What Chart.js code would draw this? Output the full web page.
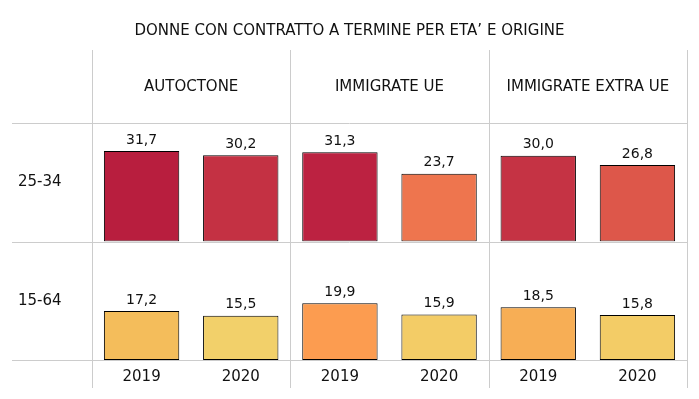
<!DOCTYPE html>
<html>
<head>
    <title>Donne con contratto a termine</title>
    <script src="https://cdn.jsdelivr.net/npm/chart.js"></script>
    <style>
        body {
            margin: 0;
            background: #fff;
        }
        .chart-box {
            width: 699px;
            height: 399px;
            position: relative;
        }
    </style>
</head>
<body>
    <div class="chart-box"><canvas id="chart"></canvas></div>

    <script>
        const chartTitle = 'DONNE CON CONTRATTO A TERMINE PER ETA\u2019 E ORIGINE';
        const groups = ['AUTOCTONE', 'IMMIGRATE UE', 'IMMIGRATE EXTRA UE'];
        const years = ['2019', '2020', '2019', '2020', '2019', '2020'];
        const rowLabels = ['25-34', '15-64'];
        const values2534 = [31.7, 30.2, 31.3, 23.7, 30.0, 26.8];
        const values1564 = [17.2, 15.5, 19.9, 15.9, 18.5, 15.8];
        const colors2534 = ['#b81e3e', '#c43143', '#bc2241', '#ee754e', '#c53344', '#dd574a'];
        const colors1564 = ['#f4bd5b', '#f2d06a', '#fc9c50', '#f3cc66', '#f7ae55', '#f3cc66'];

        const FONT = "'DejaVu Sans', sans-serif";
        const TEXT = '#111111';
        const LINE = '#cccccc';

        // grid lines, headers and row labels drawn around the bars
        const tablePlugin = {
            id: 'table',
            beforeDatasetsDraw(chart) {
                const ctx = chart.ctx;
                const x = chart.scales.x;
                const rows = [chart.scales.y25, chart.scales.y15];
                ctx.save();
                ctx.strokeStyle = LINE;
                ctx.lineWidth = 1;
                ctx.beginPath();
                for (let g = 0; g <= groups.length; g++) {
                    const px = Math.round(x.getPixelForValue(g * 2 - 0.5)) + 0.5;
                    ctx.moveTo(px, 50);
                    ctx.lineTo(px, 388);
                }
                const ys = [rows[0].top, rows[0].bottom, rows[1].bottom];
                ys.forEach(y => {
                    const py = Math.round(y) + 0.5;
                    ctx.moveTo(12, py);
                    ctx.lineTo(x.right, py);
                });
                ctx.stroke();

                ctx.fillStyle = TEXT;
                ctx.font = '15px ' + FONT;
                ctx.textAlign = 'center';
                ctx.textBaseline = 'middle';
                ctx.fillText(chartTitle, chart.width / 2, 31);
                groups.forEach((g, i) => {
                    ctx.fillText(g, x.getPixelForValue(i * 2 + 0.5), 87);
                });
                ctx.textAlign = 'left';
                rows.forEach((s, i) => {
                    ctx.fillText(rowLabels[i], 18, (s.top + s.bottom) / 2);
                });
                ctx.restore();
            },
            afterDatasetsDraw(chart) {
                const ctx = chart.ctx;
                ctx.save();
                ctx.fillStyle = TEXT;
                ctx.font = '14px ' + FONT;
                ctx.textAlign = 'center';
                ctx.textBaseline = 'bottom';
                chart.data.datasets.forEach((ds, i) => {
                    chart.getDatasetMeta(i).data.forEach((bar, j) => {
                        const label = ds.data[j].toFixed(1).replace('.', ',');
                        ctx.fillText(label, bar.x, bar.y - 4);
                    });
                });
                ctx.restore();
            }
        };

        const rowAxis = {
            type: 'linear',
            position: 'left',
            stack: 'rows',
            stackWeight: 1,
            min: 0,
            max: 41.5,
            ticks: { display: false },
            grid: { display: false, drawTicks: false },
            border: { display: false },
            afterFit: s => { s.width = 0; }
        };

        new Chart(document.getElementById('chart'), {
            type: 'bar',
            data: {
                labels: years,
                datasets: [{
                    data: values2534,
                    backgroundColor: colors2534,
                    yAxisID: 'y25'
                }, {
                    data: values1564,
                    backgroundColor: colors1564,
                    yAxisID: 'y15'
                }]
            },
            options: {
                responsive: true,
                maintainAspectRatio: false,
                animation: false,
                layout: {
                    padding: { left: 92, right: 12, top: 123, bottom: 9 }
                },
                datasets: {
                    bar: {
                        grouped: false,
                        categoryPercentage: 1,
                        barPercentage: 0.76,
                        borderColor: '#000',
                        borderWidth: 1,
                        borderSkipped: false
                    }
                },
                plugins: {
                    legend: { display: false },
                    tooltip: { enabled: false }
                },
                scales: {
                    x: {
                        grid: { display: false, drawTicks: false },
                        border: { display: false },
                        ticks: {
                            color: TEXT,
                            font: { family: FONT, size: 15 },
                            padding: 8
                        },
                        afterFit: s => { s.height = 30; }
                    },
                    // bottom row first: the stack places it lower
                    y15: Object.assign({}, rowAxis),
                    y25: Object.assign({}, rowAxis)
                }
            },
            plugins: [tablePlugin]
        });
    </script>
</body>
</html>
